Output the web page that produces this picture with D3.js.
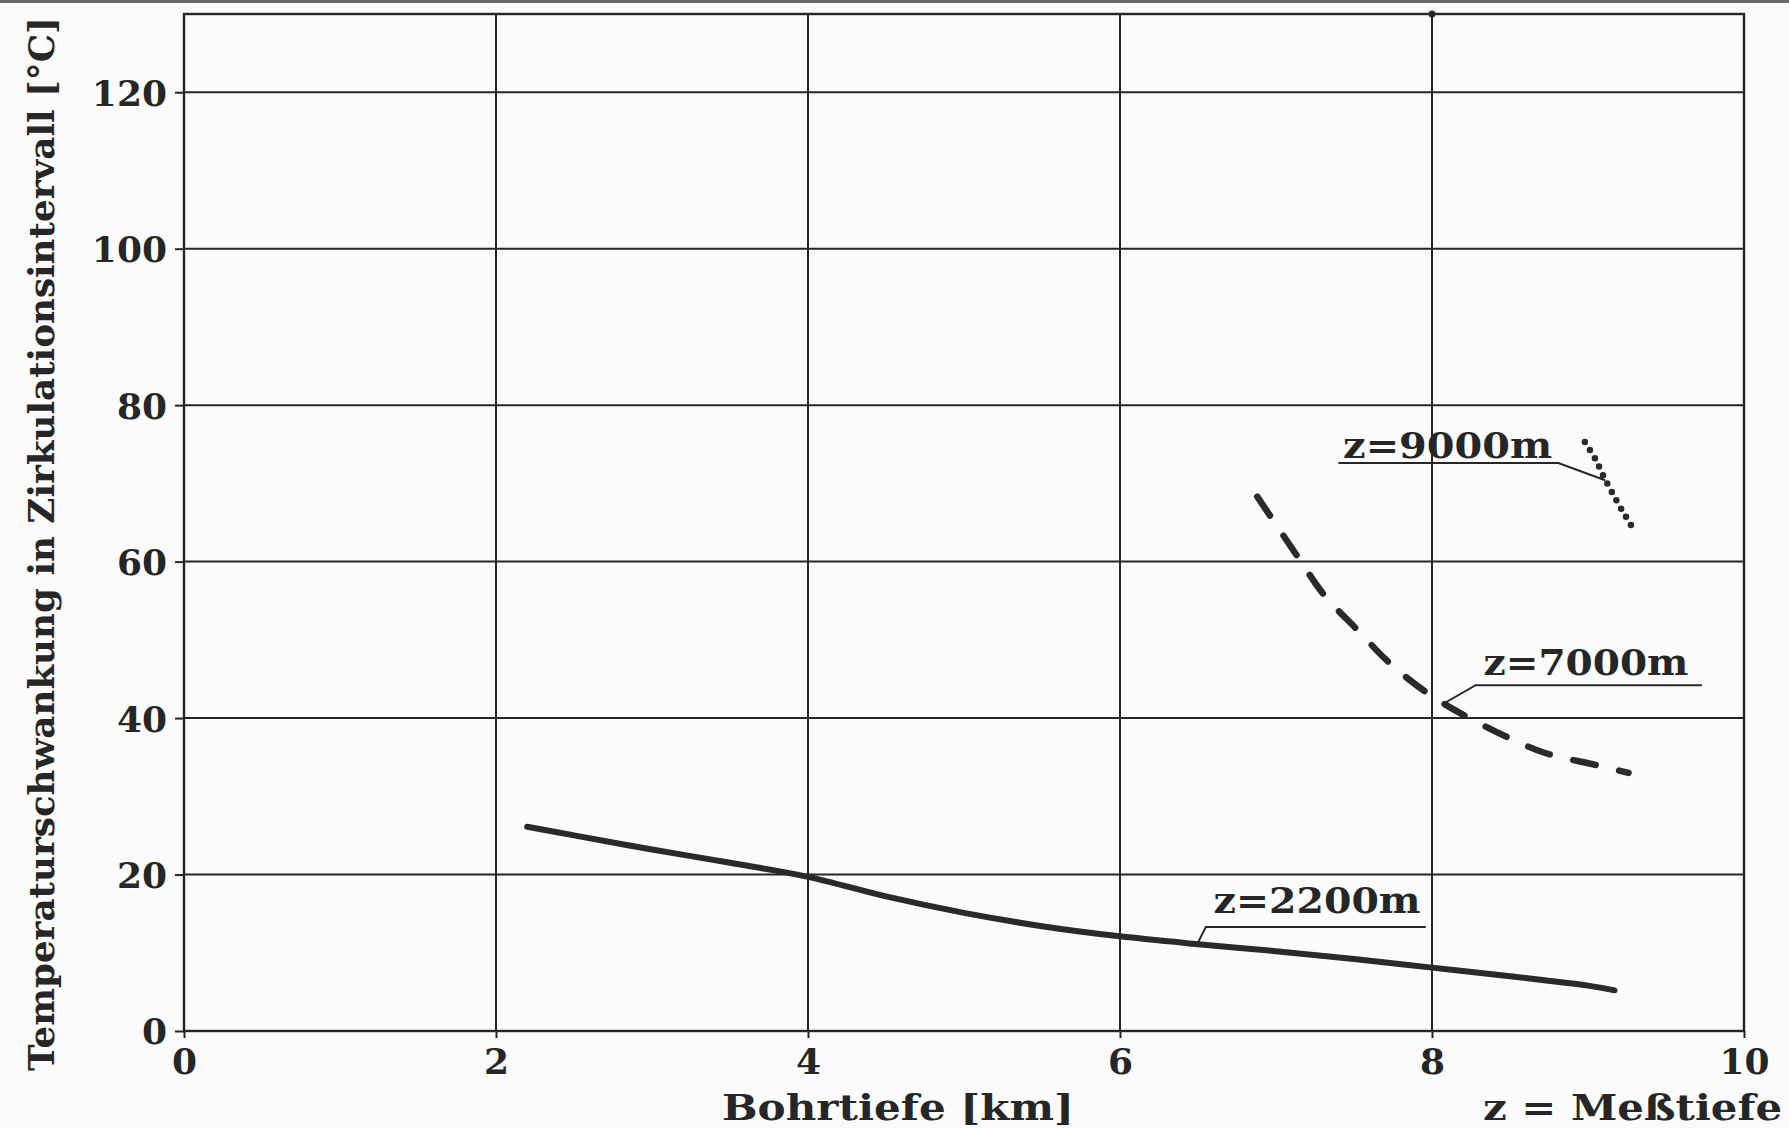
<!DOCTYPE html>
<html><head><meta charset="utf-8">
<script src="https://cdn.jsdelivr.net/npm/d3@7"></script>
<style>
html,body{margin:0;padding:0;background:#fbfbfb;}
svg{display:block;}
text{font-family:"DejaVu Serif",serif;font-weight:bold;fill:#262626;}
</style></head>
<body>
<script>
// ---- data ----
const xTicks = [0, 2, 4, 6, 8, 10];
const yTicks = [0, 20, 40, 60, 80, 100, 120];
const xTitle = "Bohrtiefe [km]";
const yTitle = "Temperaturschwankung in Zirkulationsintervall [°C]";
const noteText = "z = Meßtiefe";

const depth2200 = [2.2, 2.5, 3.0, 3.5, 4.0, 4.5, 5.0, 5.5, 6.0, 6.5, 7.0, 7.5, 8.0, 8.5, 9.0, 9.17];
const temp2200  = [26.1, 25.0, 23.2, 21.5, 19.7, 17.2, 15.1, 13.4, 12.1, 11.1, 10.2, 9.2, 8.1, 7.0, 5.8, 5.2];

const depth7000 = [6.88, 7.14, 7.31, 7.52, 7.73, 7.97, 8.22, 8.50, 8.73, 9.05, 9.26];
const temp7000  = [68.3, 60.6, 55.7, 51.3, 47.0, 43.2, 40.2, 37.4, 35.5, 34.0, 33.0];

const depth9000 = [8.98, 9.05, 9.10, 9.18, 9.28];
const temp9000  = [75.3, 73.0, 70.9, 67.9, 64.5];

const seriesNames = ["z=2200m", "z=7000m", "z=9000m"];

// ---- layout ----
const W = 1789, H = 1128;
const L = 184, R = 1744, T = 14, B = 1031;
const x = d3.scaleLinear().domain([0, 10]).range([L, R]);
const y = d3.scaleLinear().domain([0, 130]).range([B, T]);
const ink = "#262626";

const svg = d3.select("body").append("svg").attr("width", W).attr("height", H);
svg.append("rect").attr("width", W).attr("height", H).attr("fill", "#fbfbfb");
// scan edge at top
svg.append("line").attr("x1", 0).attr("x2", W).attr("y1", 1.5).attr("y2", 1.5)
  .attr("stroke", "#6a6a6a").attr("stroke-width", 3);

// grid
const grid = svg.append("g").attr("stroke", ink).attr("stroke-width", 2);
grid.selectAll(".gx").data(xTicks.filter(d => d > 0 && d < 10)).join("line")
  .attr("x1", d => x(d)).attr("x2", d => x(d)).attr("y1", T).attr("y2", B);
grid.selectAll(".gy").data(yTicks.filter(d => d > 0)).join("line")
  .attr("x1", L).attr("x2", R).attr("y1", d => y(d)).attr("y2", d => y(d));
svg.append("rect").attr("x", L).attr("y", T).attr("width", R - L).attr("height", B - T)
  .attr("fill", "none").attr("stroke", ink).attr("stroke-width", 2.4);
svg.append("circle").attr("cx", x(8)).attr("cy", y(130)).attr("r", 3.5).attr("fill", ink);

// axes
const xAxis = svg.append("g").attr("transform", `translate(0,${B})`)
  .call(d3.axisBottom(x).tickValues(xTicks).tickSize(7).tickPadding(6).tickFormat(d3.format("d")));
const yAxis = svg.append("g").attr("transform", `translate(${L},0)`)
  .call(d3.axisLeft(y).tickValues(yTicks).tickSize(9).tickPadding(8).tickFormat(d3.format("d")));
[xAxis, yAxis].forEach(a => {
  a.select(".domain").remove();
  a.selectAll(".tick line").attr("stroke", ink).attr("stroke-width", 2);
  a.selectAll(".tick text").attr("font-size", 36).attr("fill", ink)
    .attr("font-family", '"DejaVu Serif",serif').attr("font-weight", "bold");
});
xAxis.selectAll(".tick text").attr("dy", "0.82em");
yAxis.selectAll(".tick text").attr("dy", "0.36em");

// curves
const line = d3.line().x(d => x(d[0])).y(d => y(d[1])).curve(d3.curveCatmullRom);
const s2200 = depth2200.map((d, i) => [d, temp2200[i]]);
const s7000 = depth7000.map((d, i) => [d, temp7000[i]]);
const s9000 = depth9000.map((d, i) => [d, temp9000[i]]);

svg.append("path").datum(s2200).attr("d", line).attr("fill", "none")
  .attr("stroke", "#2a2a2a").attr("stroke-width", 6).attr("stroke-linecap", "round");
svg.append("path").datum(s7000).attr("d", line).attr("fill", "none")
  .attr("stroke", "#2a2a2a").attr("stroke-width", 6.5).attr("stroke-linecap", "round")
  .attr("stroke-dasharray", "23,24");
svg.append("path").datum(s9000).attr("d", line).attr("fill", "none")
  .attr("stroke", "#2a2a2a").attr("stroke-width", 6.5).attr("stroke-linecap", "round")
  .attr("stroke-dasharray", "0,9.5");

// annotations (positions in data units)
const notes = [
  {label: seriesNames[0], tx: 6.60, ty: 15.1, len: 207, u0: 6.55, u1: 7.96, uy: 13.3, px: 6.50, py: 11.3, fromEnd: false},
  {label: seriesNames[1], tx: 8.33, ty: 45.5, len: 205, u0: 8.28, u1: 9.73, uy: 44.2, px: 8.07, py: 41.8, fromEnd: false},
  {label: seriesNames[2], tx: 7.43, ty: 73.3, len: 209, u0: 7.40, u1: 8.81, uy: 72.6, px: 9.11, py: 70.4, fromEnd: true}
];
notes.forEach(n => {
  svg.append("text").attr("x", x(n.tx)).attr("y", y(n.ty)).attr("font-size", 35)
    .attr("textLength", n.len).attr("lengthAdjust", "spacingAndGlyphs").text(n.label);
  const pts = n.fromEnd
    ? [[n.u0, n.uy], [n.u1, n.uy], [n.px, n.py]]
    : [[n.u1, n.uy], [n.u0, n.uy], [n.px, n.py]];
  svg.append("path").attr("d", d3.line().x(d => x(d[0])).y(d => y(d[1]))(pts))
    .attr("fill", "none").attr("stroke", ink).attr("stroke-width", 2);
});

// titles
svg.append("text").attr("x", 722).attr("y", 1120).attr("font-size", 35)
  .attr("textLength", 352).attr("lengthAdjust", "spacingAndGlyphs").text(xTitle);
svg.append("text").attr("x", 1483).attr("y", 1120).attr("font-size", 35)
  .attr("textLength", 299).attr("lengthAdjust", "spacingAndGlyphs").text(noteText);
svg.append("text").attr("transform", "translate(54,1071) rotate(-90)").attr("font-size", 36)
  .attr("textLength", 1054).attr("lengthAdjust", "spacingAndGlyphs").text(yTitle);
</script>
</body></html>
